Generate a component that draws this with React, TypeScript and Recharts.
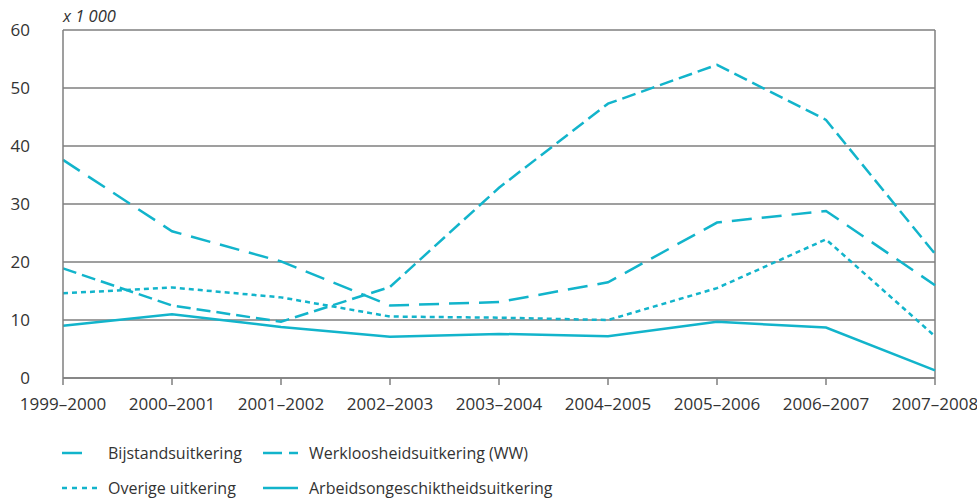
import React from 'react';
import { LineChart, Line, XAxis, YAxis, CartesianGrid, ReferenceLine } from 'recharts';

const years = [
  '1999–2000', '2000–2001', '2001–2002', '2002–2003', '2003–2004',
  '2004–2005', '2005–2006', '2006–2007', '2007–2008',
];
const bijstand = [37.6, 25.3, 20.1, 12.5, 13.1, 16.5, 26.8, 28.8, 16.0];
const werkloosheid = [18.9, 12.5, 9.7, 15.7, 32.8, 47.3, 54.0, 44.5, 21.4];
const overige = [14.6, 15.6, 13.9, 10.6, 10.4, 10.0, 15.5, 23.9, 7.2];
const arbeidsongeschikt = [9.0, 11.0, 8.8, 7.1, 7.6, 7.2, 9.7, 8.7, 1.3];
const yTicks = [0, 10, 20, 30, 40, 50, 60];

const data = years.map((year, i) => ({
  year,
  bijstand: bijstand[i],
  ww: werkloosheid[i],
  overige: overige[i],
  ao: arbeidsongeschikt[i],
}));

const TEAL = '#12b4cb';
const GRID = '#7f7f7f';
const TEXT = '#333333';
const FONT = '"Open Sans", "Noto Sans", sans-serif';

const series = [
  { key: 'bijstand', name: 'Bijstandsuitkering', dash: '20 10', legendDash: '20 20' },
  { key: 'ww', name: 'Werkloosheidsuitkering (WW)', dash: '14 6', legendDash: '19 7' },
  { key: 'overige', name: 'Overige uitkering', dash: '5 4', legendDash: '5 5' },
  { key: 'ao', name: 'Arbeidsongeschiktheidsuitkering', dash: undefined, legendDash: undefined },
];

const LegendItem = ({ s, left, top }: { s: typeof series[number]; left: number; top: number }) => (
  <div style={{ position: 'absolute', left, top, height: 20, display: 'flex', alignItems: 'center' }}>
    <svg width={35} height={6} style={{ display: 'block' }}>
      <line x1={0} y1={3} x2={35} y2={3} stroke={TEAL} strokeWidth={2.5} strokeDasharray={s.legendDash} />
    </svg>
    <span style={{ marginLeft: 11, fontSize: 16, lineHeight: '20px', color: TEXT, fontFamily: FONT, whiteSpace: 'nowrap' }}>
      {s.name}
    </span>
  </div>
);

export default function App() {
  return (
    <div style={{ position: 'absolute', left: 0, top: 0, width: 977, height: 499, background: '#fff', fontFamily: FONT, overflow: 'hidden' }}>
      <div style={{ position: 'absolute', left: 63, top: 5, fontSize: 16.5, lineHeight: '22px', fontStyle: 'italic', color: TEXT }}>x 1 000</div>
      <LineChart width={977} height={420} data={data} margin={{ top: 30, right: 42, left: 0, bottom: 12 }}>
        <CartesianGrid vertical={false} stroke={GRID} strokeWidth={1.5} />
        <XAxis
          dataKey="year"
          stroke={GRID}
          strokeWidth={1.5}
          tickSize={7}
          tickMargin={13}
          interval={0}
          tick={{ fill: TEXT, fontSize: 17, fontFamily: FONT }}
        />
        <YAxis
          width={63}
          domain={[0, 60]}
          ticks={yTicks}
          stroke={GRID}
          strokeWidth={1.5}
          tickLine={false}
          tickSize={0}
          tickMargin={33}
          tick={{ fill: TEXT, fontSize: 17, fontFamily: FONT }}
        />
        <ReferenceLine x={years[years.length - 1]} stroke={GRID} strokeWidth={1.5} />
        {series.map((s) => (
          <Line
            key={s.key}
            type="linear"
            dataKey={s.key}
            name={s.name}
            stroke={TEAL}
            strokeWidth={2.5}
            strokeDasharray={s.dash}
            dot={false}
            activeDot={false}
            isAnimationActive={false}
          />
        ))}
      </LineChart>
      <LegendItem s={series[0]} left={62} top={443} />
      <LegendItem s={series[1]} left={263} top={443} />
      <LegendItem s={series[2]} left={62} top={478} />
      <LegendItem s={series[3]} left={263} top={478} />
    </div>
  );
}
